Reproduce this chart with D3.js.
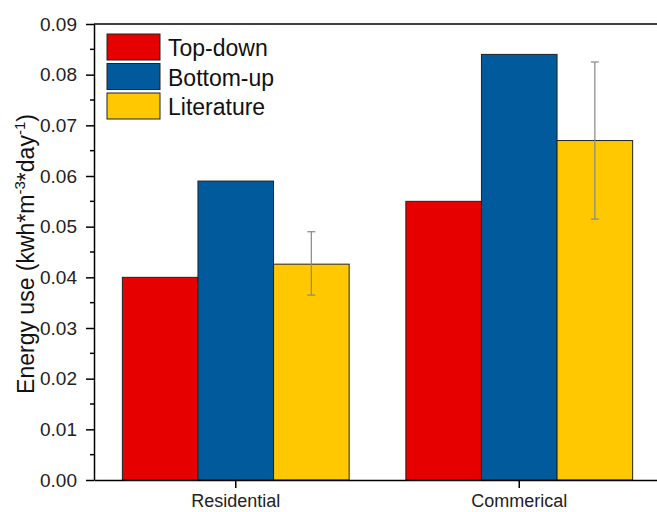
<!DOCTYPE html>
<html><head><meta charset="utf-8">
<script src="https://cdn.jsdelivr.net/npm/d3@7"></script>
<style>body{margin:0;background:#fff}text{font-family:"Liberation Sans",Arial,sans-serif}</style>
</head><body><svg id="c" width="657" height="512"></svg>
<script>
const categories = ["Residential", "Commerical"];
const seriesNames = ["Top-down", "Bottom-up", "Literature"];
const topDown = [0.040, 0.055];
const bottomUp = [0.059, 0.084];
const literature = [0.0426, 0.067];
const litErrLow = [0.0365, 0.0515];
const litErrHigh = [0.049, 0.0825];
const yTicks = [0, 0.01, 0.02, 0.03, 0.04, 0.05, 0.06, 0.07, 0.08, 0.09];
const colors = ["#e60000", "#005a9c", "#ffc800"];

const svg = d3.select("#c");
const L = 94, T = 24, B = 480, R = 661;
const y = d3.scaleLinear().domain([0, 0.09]).range([B, T]);
const x = d3.scaleBand().domain(categories).range([L, R]).paddingInner(0.2).paddingOuter(0.1);
const xs = d3.scaleBand().domain(seriesNames).range([0, x.bandwidth()]);

const series = [topDown, bottomUp, literature];
const g = svg.append("g");
categories.forEach((c, i) => {
  series.forEach((s, j) => {
    g.append("rect")
      .attr("x", x(c) + xs(seriesNames[j]))
      .attr("y", y(s[i]))
      .attr("width", xs.bandwidth())
      .attr("height", y(0) - y(s[i]))
      .attr("fill", colors[j])
      .attr("stroke", "#222")
      .attr("stroke-width", 1);
  });
  const cx = x(c) + xs("Literature") + xs.bandwidth() / 2;
  const eg = g.append("g").attr("stroke", "#888").attr("stroke-width", 1.2);
  eg.append("line").attr("x1", cx).attr("x2", cx).attr("y1", y(litErrLow[i])).attr("y2", y(litErrHigh[i]));
  [litErrLow[i], litErrHigh[i]].forEach(v => {
    eg.append("line").attr("x1", cx - 4).attr("x2", cx + 4).attr("y1", y(v)).attr("y2", y(v));
  });
});

// top frame line
svg.append("line").attr("x1", L).attr("x2", R).attr("y1", T).attr("y2", T).attr("stroke", "#000").attr("stroke-width", 1.5);

// y axis
const ya = svg.append("g").attr("transform", `translate(${L},0)`)
  .call(d3.axisLeft(y).tickValues(yTicks).tickFormat(d3.format(".2f")).tickSize(8).tickSizeOuter(0));
ya.select(".domain").attr("stroke-width", 1.5);
ya.selectAll(".tick line").attr("stroke-width", 1.5);
ya.selectAll(".tick text").attr("font-size", 19).attr("fill", "#222").attr("dx", -6);
const minor = d3.range(0.005, 0.09, 0.01);
ya.selectAll(".minor").data(minor).enter().append("line")
  .attr("x1", -4).attr("x2", 0).attr("y1", d => y(d)).attr("y2", d => y(d))
  .attr("stroke", "#000").attr("stroke-width", 1.5);

// x axis
const xa = svg.append("g").attr("transform", `translate(0,${B})`)
  .call(d3.axisBottom(x).tickSize(8).tickSizeOuter(0));
xa.select(".domain").attr("stroke-width", 1.5);
xa.selectAll(".tick line").attr("stroke-width", 1.5);
xa.selectAll(".tick text").attr("font-size", 18).attr("fill", "#222").attr("dy", "0.88em");

// y title
const yt = svg.append("text").attr("transform", `translate(34,${(T + B) / 2 + 2}) rotate(-90)`)
  .attr("text-anchor", "middle").attr("font-size", 23).attr("fill", "#111");
yt.append("tspan").text("Energy use (kwh*m");
yt.append("tspan").attr("font-size", 15).attr("dy", -9).text("-3");
yt.append("tspan").attr("dy", 9).text("*day");
yt.append("tspan").attr("font-size", 15).attr("dy", -9).text("-1");
yt.append("tspan").attr("dy", 9).text(")");

// legend
const lg = svg.append("g");
seriesNames.forEach((n, j) => {
  const ly = 34 + j * 29.5;
  lg.append("rect").attr("x", 107).attr("y", ly).attr("width", 53).attr("height", 26)
    .attr("fill", colors[j]).attr("stroke", "#222").attr("stroke-width", 1);
  lg.append("text").attr("x", 168).attr("y", ly + 22).attr("font-size", 23).attr("fill", "#111").text(n);
});
</script></body></html>
